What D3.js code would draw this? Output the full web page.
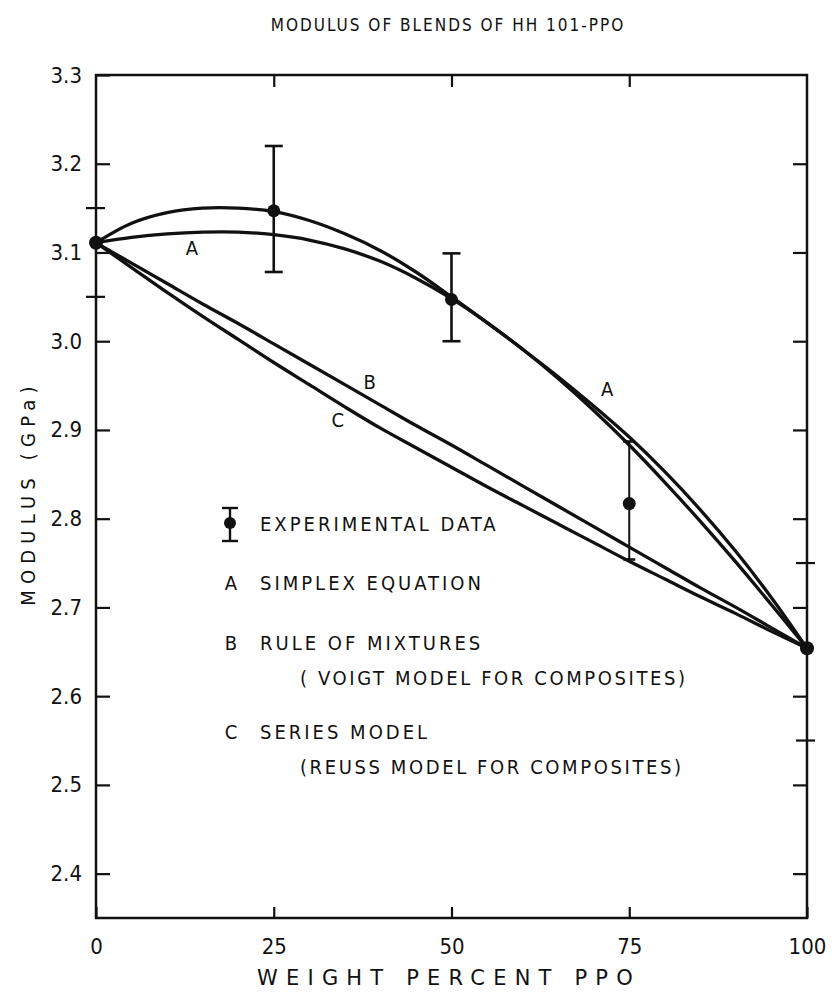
<!DOCTYPE html>
<html>
<head>
<meta charset="utf-8">
<script src="https://cdn.jsdelivr.net/npm/d3@7"></script>
<style>
  body { margin: 0; background: #fff; }
  svg { display: block; }
  text { font-family: "DejaVu Sans Condensed", "Liberation Sans Narrow", "DejaVu Sans", sans-serif; fill: #111; }
</style>
</head>
<body>
<svg width="834" height="997"></svg>
<script>
// weight percent PPO
var pct = [0, 5, 10, 15, 20, 25, 30, 35, 40, 45, 50, 55, 60, 65, 70, 75, 80, 85, 90, 95, 100];

// upper curve, passes through the data points
var upperCurve = [3.111, 3.133, 3.145, 3.150, 3.150, 3.146, 3.136, 3.121, 3.102, 3.078, 3.050, 3.021, 2.991, 2.960, 2.927, 2.892, 2.853, 2.810, 2.763, 2.711, 2.654];
// curve A, simplex equation
var simplexA = [3.111, 3.117, 3.121, 3.123, 3.123, 3.120, 3.114, 3.104, 3.090, 3.071, 3.048, 3.021, 2.991, 2.958, 2.922, 2.883, 2.841, 2.797, 2.751, 2.703, 2.654];
// curve B, rule of mixtures
var mixturesB = [3.111, 3.088, 3.065, 3.042, 3.020, 2.997, 2.974, 2.951, 2.928, 2.905, 2.883, 2.860, 2.837, 2.814, 2.791, 2.768, 2.745, 2.722, 2.700, 2.677, 2.654];
// curve C, series model
var seriesC = [3.111, 3.083, 3.055, 3.028, 3.002, 2.976, 2.951, 2.926, 2.902, 2.880, 2.858, 2.836, 2.815, 2.794, 2.773, 2.752, 2.732, 2.712, 2.693, 2.673, 2.654];

// experimental data
var expX = [0, 25, 50, 75, 100];
var expY = [3.111, 3.147, 3.047, 2.817, 2.654];
var expLow = [null, 3.078, 3.000, 2.754, null];
var expHigh = [null, 3.220, 3.099, 2.887, null];

var yTicks = [2.4, 2.5, 2.6, 2.7, 2.8, 2.9, 3.0, 3.1, 3.2, 3.3];
var xTicks = [0, 25, 50, 75, 100];

var svg = d3.select("svg");

var x = d3.scaleLinear().domain([0, 100]).range([96, 807]);
var y = d3.scaleLinear().domain([2.35, 3.3]).range([918, 75]);

// title
svg.append("text")
    .attr("x", 448).attr("y", 31)
    .attr("text-anchor", "middle")
    .attr("font-size", 17)
    .attr("letter-spacing", 2.0)
    .text("MODULUS OF BLENDS OF HH 101-PPO");

// frame
svg.append("rect")
    .attr("x", x(0)).attr("y", y(3.3))
    .attr("width", x(100) - x(0)).attr("height", y(2.35) - y(3.3))
    .attr("fill", "none").attr("stroke", "#111").attr("stroke-width", 2.5);

// left axis
var leftAx = svg.append("g")
    .attr("transform", "translate(" + x(0) + ",0)")
    .call(d3.axisLeft(y).tickValues(yTicks).tickSize(-14).tickPadding(14)
        .tickFormat(d3.format(".1f")));
// right axis
var rightAx = svg.append("g")
    .attr("transform", "translate(" + x(100) + ",0)")
    .call(d3.axisRight(y).tickValues(yTicks.filter(function (d) { return d < 3.3; }))
        .tickSize(-14).tickFormat(""));
// bottom axis
var bottomAx = svg.append("g")
    .attr("transform", "translate(0," + y(2.35) + ")")
    .call(d3.axisBottom(x).tickValues(xTicks).tickSize(-11).tickPadding(20));
// top ticks
var topAx = svg.append("g")
    .attr("transform", "translate(0," + y(3.3) + ")")
    .call(d3.axisTop(x).tickValues([25, 50, 75]).tickSize(-12).tickFormat(""));

[leftAx, rightAx, bottomAx, topAx].forEach(function (g) {
    g.select(".domain").remove();
    g.selectAll(".tick line").attr("stroke", "#111").attr("stroke-width", 2.2);
    g.selectAll("text").attr("font-size", 22).attr("fill", "#111");
});
bottomAx.selectAll(".tick text").attr("dy", "0.71em");

// crossing half ticks
var leftHalf = [3.15, 3.05];
var rightHalf = [2.75, 2.55];
svg.selectAll(".halfL").data(leftHalf).enter().append("line")
    .attr("x1", x(0) - 10).attr("x2", x(0) + 9)
    .attr("y1", function (d) { return y(d); }).attr("y2", function (d) { return y(d); })
    .attr("stroke", "#111").attr("stroke-width", 2.2);
svg.selectAll(".halfR").data(rightHalf).enter().append("line")
    .attr("x1", x(100) - 11).attr("x2", x(100) + 8)
    .attr("y1", function (d) { return y(d); }).attr("y2", function (d) { return y(d); })
    .attr("stroke", "#111").attr("stroke-width", 2.2);

// axis titles
svg.append("text")
    .attr("x", 449).attr("y", 985)
    .attr("text-anchor", "middle")
    .attr("font-size", 21)
    .attr("letter-spacing", 8.2)
    .style("font-family", "'DejaVu Sans', sans-serif")
    .text("WEIGHT PERCENT PPO");
svg.append("text")
    .attr("transform", "translate(35,493) rotate(-90)")
    .attr("text-anchor", "middle")
    .attr("font-size", 20)
    .attr("letter-spacing", 6.2)
    .text("MODULUS (GPa)");

// curves
var line = d3.line()
    .x(function (d) { return x(d[0]); })
    .y(function (d) { return y(d[1]); })
    .curve(d3.curveCatmullRom.alpha(0.5));

[upperCurve, simplexA, mixturesB, seriesC].forEach(function (vals) {
    svg.append("path")
        .datum(pct.map(function (p, i) { return [p, vals[i]]; }))
        .attr("d", line)
        .attr("fill", "none")
        .attr("stroke", "#111")
        .attr("stroke-width", 3.3)
        .attr("stroke-linejoin", "round");
});

// curve letters
var curveLabels = [
    { t: "A", px: 13.5, v: 3.105 },
    { t: "A", px: 71.9, v: 2.946 },
    { t: "B", px: 38.5, v: 2.954 },
    { t: "C", px: 34.0, v: 2.911 }
];
svg.selectAll(".clab").data(curveLabels).enter().append("text")
    .attr("x", function (d) { return x(d.px); })
    .attr("y", function (d) { return y(d.v); })
    .attr("dy", "0.36em")
    .attr("text-anchor", "middle")
    .attr("font-size", 20)
    .text(function (d) { return d.t; });

// experimental points with error bars
var exp = expX.map(function (d, i) {
    return { x: d, y: expY[i], lo: expLow[i], hi: expHigh[i] };
});
var bars = exp.filter(function (d) { return d.lo !== null; });
svg.selectAll(".ebar").data(bars).enter().append("line")
    .attr("x1", function (d) { return x(d.x); }).attr("x2", function (d) { return x(d.x); })
    .attr("y1", function (d) { return y(d.lo); }).attr("y2", function (d) { return y(d.hi); })
    .attr("stroke", "#111").attr("stroke-width", function (d) { return d.x === 75 ? 2 : 2.6; });
["lo", "hi"].forEach(function (k) {
    svg.selectAll(".cap" + k).data(bars).enter().append("line")
        .attr("x1", function (d) { return x(d.x) - (d.x === 75 ? 6 : 9); })
        .attr("x2", function (d) { return x(d.x) + (d.x === 75 ? 6 : 9); })
        .attr("y1", function (d) { return y(d[k]); }).attr("y2", function (d) { return y(d[k]); })
        .attr("stroke", "#111").attr("stroke-width", 2.6);
});
svg.selectAll(".pt").data(exp).enter().append("circle")
    .attr("cx", function (d) { return x(d.x); })
    .attr("cy", function (d) { return y(d.y); })
    .attr("r", function (d) { return (d.x === 0 || d.x === 100) ? 7 : 6.5; })
    .attr("fill", "#111");

// legend
var lg = svg.append("g");
lg.append("line").attr("x1", 230).attr("x2", 230).attr("y1", 508).attr("y2", 541)
    .attr("stroke", "#111").attr("stroke-width", 2.4);
lg.append("line").attr("x1", 222).attr("x2", 238).attr("y1", 508).attr("y2", 508)
    .attr("stroke", "#111").attr("stroke-width", 2.4);
lg.append("line").attr("x1", 222).attr("x2", 238).attr("y1", 541).attr("y2", 541)
    .attr("stroke", "#111").attr("stroke-width", 2.4);
lg.append("circle").attr("cx", 230).attr("cy", 523).attr("r", 6).attr("fill", "#111");

var legendRows = [
    { key: "", label: "EXPERIMENTAL DATA", lx: 260, ly: 524 },
    { key: "A", label: "SIMPLEX EQUATION", lx: 260, ly: 583 },
    { key: "B", label: "RULE OF MIXTURES", lx: 260, ly: 643 },
    { key: "", label: "( VOIGT MODEL FOR COMPOSITES)", lx: 300, ly: 678 },
    { key: "C", label: "SERIES MODEL", lx: 260, ly: 732 },
    { key: "", label: "(REUSS MODEL FOR COMPOSITES)", lx: 300, ly: 767 }
];
lg.selectAll(".lk").data(legendRows.filter(function (d) { return d.key; })).enter().append("text")
    .attr("x", 231).attr("y", function (d) { return d.ly; })
    .attr("dy", "0.36em").attr("text-anchor", "middle")
    .attr("font-size", 20)
    .text(function (d) { return d.key; });
lg.selectAll(".lt").data(legendRows).enter().append("text")
    .attr("x", function (d) { return d.lx; }).attr("y", function (d) { return d.ly; })
    .attr("dy", "0.36em")
    .attr("font-size", 20)
    .attr("letter-spacing", function (d) { return d.lx === 260 ? 3 : 2.6; })
    .text(function (d) { return d.label; });
</script>
</body>
</html>
